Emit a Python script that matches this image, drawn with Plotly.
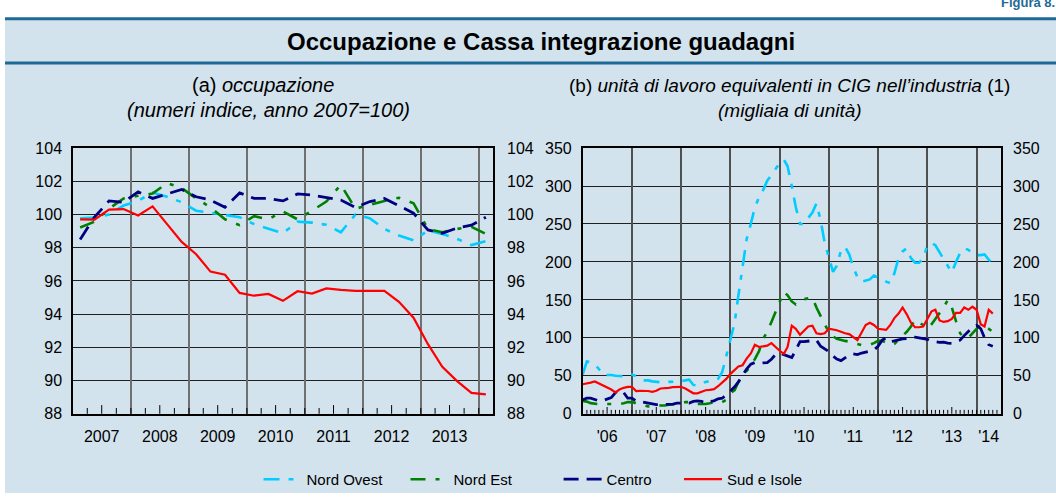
import plotly.graph_objects as go
import pandas as pd

# ---------------- DATA ----------------
# (a) occupazione, quarterly index numbers 2007=100, 2007Q1..2014Q1
quarters = pd.period_range("2007Q1", "2014Q1", freq="Q")
occ_nord_ovest = [99.77, 99.81, 100.00, 100.54, 100.82, 101.32, 101.07, 100.74, 100.23, 100.10,
                  99.96, 99.84, 99.42, 99.13, 98.87, 99.57, 99.51, 99.38, 98.93, 100.00,
                  99.77, 99.13, 98.74, 98.45, 99.03, 98.83, 98.54, 98.16, 98.39]
occ_nord_est = [99.22, 99.57, 100.35, 100.97, 101.13, 101.26, 101.90, 101.59, 100.97, 100.43,
                99.71, 99.36, 99.90, 99.71, 100.19, 99.71, 100.23, 100.78, 101.79, 100.35,
                100.58, 100.82, 101.01, 100.68, 99.13, 98.93, 99.13, 99.26, 98.83]
occ_centro = [98.50, 99.84, 100.82, 100.74, 101.36, 100.97, 101.24, 101.51, 101.07, 100.87,
              100.43, 101.30, 100.97, 100.97, 100.82, 101.24, 101.17, 101.01, 100.87, 100.43,
              100.78, 100.97, 100.54, 100.08, 99.07, 98.87, 99.18, 99.36, 99.84]
occ_sud = [99.71, 99.69, 100.29, 100.33, 99.94, 100.49, 99.42, 98.35, 97.61, 96.56,
           96.37, 95.28, 95.11, 95.22, 94.80, 95.38, 95.24, 95.55, 95.46, 95.40,
           95.40, 95.40, 94.74, 93.79, 92.19, 90.83, 89.98, 89.26, 89.17]

# (b) CIG, monthly thousands of units, Jan 2006 .. May 2014
months = pd.date_range("2006-01-01", periods=101, freq="MS")
cig_nord_ovest = [52, 69, 67.5, 65, 59, 51, 51, 51, 50, 49.6, 49.6, 51.3, 51.7, 49.6, 45.3, 44, 44,
                  42.7, 42, 41, 41, 42, 42, 42.7, 42.7, 44, 45, 38, 37, 39.7, 42, 43, 44, 46, 55,
                  76, 97, 120, 156, 195, 230, 250, 272, 285, 295, 307, 315, 322, 330, 335, 326,
                  300, 272, 250, 250, 258, 265, 277, 255, 225, 205, 187, 195, 215, 220, 210, 193,
                  180, 174, 175, 177, 182, 180, 177, 174, 172, 185, 205, 214, 218, 205, 199, 199,
                  205, 222, 225, 222, 213, 205, 195, 186, 200, 212, 218, 216, 211, 209, 209, 210,
                  203, 198]
cig_nord_est = [17, 16, 14, 13, 12, 12, 12.8, 12.8, 12.8, 12.8, 14, 15.4, 15.4, 14, 12.8, 10.7,
                9.8, 9.8, 9.8, 11, 11, 12, 12, 12.8, 14, 15.4, 15.4, 14, 12.8, 12.8, 12.8, 14,
                15.4, 14, 15.4, 18.4, 27, 31, 42, 50, 57, 63, 72, 82.5, 99, 108, 121, 134, 149,
                160.7, 156, 148, 144, 148, 151, 152, 153, 140, 128, 118, 108, 102, 98.7, 97, 96,
                95, 93.5, 91.5, 90.5, 90, 91, 93, 96, 96, 94, 91, 92, 97, 102, 108, 115, 124,
                120, 117, 112, 118, 125, 133, 140, 150, 140, 122, 106, 100, 100, 106, 112, 118,
                116, 112, 108]
cig_centro = [18.4, 20.5, 20.5, 18.4, 17, 17.5, 19.7, 21.4, 28, 31, 28, 20.5, 20.5, 17, 16.2, 15,
              14, 12.8, 12, 12, 12, 12, 12.8, 14, 14, 14, 14, 16.2, 17, 16.2, 14, 16.2, 17,
              19.7, 20.5, 24.8, 30, 35.5, 42, 50.4, 59, 65.4, 67.5, 66.7, 66.7, 67.5, 71.8, 78,
              80, 78, 76, 74, 84, 95, 95, 96, 96.5, 97, 89, 86, 82, 76, 72, 70, 74, 77.5, 79,
              78, 80, 81, 82, 84, 89, 97, 100, 95, 96, 97.5, 98.7, 99, 101, 101, 100, 99, 98,
              95.7, 95, 94, 94.4, 93, 92.8, 95, 97, 103, 108, 114, 116.5, 112, 100, 91, 89]
cig_sud = [38.9, 39.7, 41, 42.5, 40, 37.6, 35.5, 32, 28.2, 32, 34.2, 35.5, 35.5, 30, 30.3, 30.3,
           30, 29, 30.3, 33.3, 33.5, 34.2, 35, 35.5, 35.5, 33.3, 30.3, 27, 27, 29, 31, 31.5,
           32.5, 36.3, 41, 46, 52.6, 57.7, 62.4, 64, 72.6, 79.5, 91, 88, 88.9, 89.7, 93, 88,
           83, 79, 88, 116, 112, 104, 110, 115, 116, 106, 105, 106, 112, 111, 110, 108, 106,
           105, 101, 97, 107, 117, 120, 117, 112, 111, 110.5, 117, 126, 132, 140, 131, 120,
           114, 114, 115, 126, 135, 137, 123, 121, 122, 125, 133, 133, 140, 137, 141, 137,
           118, 115, 137, 132]

series_names = ["Nord Ovest", "Nord Est", "Centro", "Sud e Isole"]
left_year_labels = {2007: "2007", 2008: "2008", 2009: "2009", 2010: "2010",
                    2011: "2011", 2012: "2012", 2013: "2013"}
right_year_labels = {2006: "'06", 2007: "'07", 2008: "'08", 2009: "'09", 2010: "'10",
                     2011: "'11", 2012: "'12", 2013: "'13", 2014: "'14"}
left_yticks = [88, 90, 92, 94, 96, 98, 100, 102, 104]
right_yticks = [0, 50, 100, 150, 200, 250, 300, 350]

# ---------------- STYLE ----------------
W, H = 1056, 502
BG = "#D3E3ED"
DARK = "#1E6A97"
FONT = "Liberation Sans, Arial, sans-serif"
colors = ["#00CCFF", "#008000", "#000080", "#FF0000"]
dashes = ["16px,9px,5px,9px", "15px,10px,4px,10px", "15px,8px", "solid"]
widths = [2.6, 2.6, 2.8, 2.2]
PLOT_H = 275  # px height of both plot areas


def px(x):
    return x / W


def py(y):
    return 1 - y / H


q_mid = [p.start_time + (p.end_time - p.start_time) / 2 for p in quarters]

fig = go.Figure()

left_series = [occ_nord_ovest, occ_nord_est, occ_centro, occ_sud]
right_series = [cig_nord_ovest, cig_nord_est, cig_centro, cig_sud]
legend_ids = ["legend", "legend2", "legend3", "legend4"]

for i, name in enumerate(series_names):
    fig.add_trace(go.Scatter(
        x=q_mid, y=left_series[i], mode="lines", name=name,
        line=dict(color=colors[i], dash=dashes[i], width=widths[i]),
        xaxis="x", yaxis="y", legend=legend_ids[i], showlegend=True))
for i, name in enumerate(series_names):
    fig.add_trace(go.Scatter(
        x=months, y=right_series[i], mode="lines", name=name,
        line=dict(color=colors[i], dash=dashes[i], width=widths[i]),
        xaxis="x3", yaxis="y3", showlegend=False))

# helper traces so the overlay axes (right labels, year grid) get drawn
for xa, ya in (("x", "y2"), ("x3", "y4"), ("x2", "y"), ("x4", "y3")):
    fig.add_trace(go.Scatter(x=[], y=[], xaxis=xa, yaxis=ya, showlegend=False, hoverinfo="skip"))

left_dom_x = [px(73), px(493)]
right_dom_x = [px(582.7), px(1001)]
dom_y = [py(420), py(145)]

left_range = ["2007-01-01", "2014-04-01"]
right_range = ["2006-01-01", "2014-07-01"]

# label positions (mid-year; the partial 2014 on the right gets its label mid-way)
left_label_pos = [f"{y}-07-01" for y in left_year_labels]
right_label_pos = [f"{y}-07-01" for y in right_year_labels if y < 2014] + ["2014-04-01"]

# tick mark positions: quarter / month boundaries
left_tick_dates = pd.date_range("2007-04-01", "2014-01-01", freq="QS")
right_tick_dates = pd.date_range("2006-02-01", "2014-06-01", freq="MS")

left_year_starts = [f"{y}-01-01" for y in range(2008, 2015)]
right_year_starts = [f"{y}-01-01" for y in range(2007, 2015)]

tickfont = dict(family=FONT, size=16, color="black")
axis_line = dict(showline=True, linecolor="black", linewidth=1.5, mirror=True, zeroline=False)

fig.update_layout(
    width=W, height=H, margin=dict(l=0, r=0, t=0, b=0),
    paper_bgcolor="white", plot_bgcolor="white",
    font=dict(family=FONT, color="black"),
    title=dict(text="<b>Figura 8.</b>", x=px(1001), xanchor="left", xref="container",
               y=1 - 2 / H, yanchor="middle", yref="container",
               font=dict(family=FONT, size=13, color=DARK)),
    xaxis=dict(domain=left_dom_x, anchor="y", type="date", range=left_range,
               tickmode="array", tickvals=left_label_pos, ticktext=list(left_year_labels.values()),
               ticks="", showgrid=False, tickfont=tickfont, ticklabelstandoff=7, **axis_line),
    xaxis2=dict(overlaying="x", anchor="y", type="date", range=left_range,
                tickmode="array", tickvals=left_year_starts, ticks="", showticklabels=False,
                showgrid=True, gridcolor="#707070", gridwidth=2, zeroline=False, showline=False),
    yaxis=dict(domain=dom_y, anchor="x", range=[88, 104], tickmode="array", tickvals=left_yticks,
               showgrid=True, gridcolor="#202020", gridwidth=1, ticks="", tickfont=tickfont,
               ticklabelstandoff=6, **axis_line),
    yaxis2=dict(overlaying="y", anchor="x", side="right", range=[88, 104], tickmode="array",
                tickvals=left_yticks, showgrid=False, ticks="", tickfont=tickfont,
                ticklabelstandoff=13, zeroline=False),
    xaxis3=dict(domain=right_dom_x, anchor="y3", type="date", range=right_range,
                tickmode="array", tickvals=right_label_pos, ticktext=list(right_year_labels.values()),
                ticks="", showgrid=False, tickfont=tickfont, ticklabelstandoff=7, **axis_line),
    xaxis4=dict(overlaying="x3", anchor="y3", type="date", range=right_range,
                tickmode="array", tickvals=right_year_starts, ticks="", showticklabels=False,
                showgrid=True, gridcolor="#505050", gridwidth=1.5, zeroline=False, showline=False),
    yaxis3=dict(domain=dom_y, anchor="x3", range=[0, 350], tickmode="array", tickvals=right_yticks,
                showgrid=True, gridcolor="#202020", gridwidth=1, ticks="", tickfont=tickfont,
                ticklabelstandoff=6, **axis_line),
    yaxis4=dict(overlaying="y3", anchor="x3", side="right", range=[0, 350], tickmode="array",
                tickvals=right_yticks, showgrid=False, ticks="", tickfont=tickfont,
                ticklabelstandoff=11, zeroline=False),
)

# inside tick marks along the bottom axes (longer at mid-year)
for d in left_tick_dates:
    ln = 9 if d.month == 7 else 6
    fig.add_shape(type="line", xref="x", yref="y domain", x0=d, x1=d, y0=0, y1=ln / PLOT_H,
                  line=dict(color="black", width=1), layer="above")
for d in right_tick_dates:
    ln = 7 if d.month == 7 else 4
    fig.add_shape(type="line", xref="x3", yref="y3 domain", x0=d, x1=d, y0=0, y1=ln / PLOT_H,
                  line=dict(color="black", width=1), layer="above")

# legends (one per series, positioned like the reference)
legend_x = [258.5, 405.5, 558.6, 679]
for lid, lx in zip(legend_ids, legend_x):
    fig.update_layout({lid: dict(x=px(lx), y=py(488), xanchor="left", yanchor="middle",
                                 orientation="h", bgcolor="rgba(0,0,0,0)", borderwidth=0,
                                 itemwidth=38, font=dict(family=FONT, size=15, color="black"))})

# background panel and header rules
fig.add_shape(type="rect", xref="paper", yref="paper", x0=px(5), x1=1.0, y0=0, y1=py(11),
              fillcolor=BG, line=dict(width=0), layer="below")
for yy in (11, 57):
    fig.add_shape(type="line", xref="paper", yref="paper", x0=px(5), x1=1.0, y0=py(yy), y1=py(yy),
                  line=dict(color=DARK, width=3), layer="below")

ann = [
    dict(text="<b>Occupazione e Cassa integrazione guadagni</b>", x=px(541), y=py(35), size=24),
    dict(text="(a) <i>occupazione</i>", x=px(263), y=py(80), size=20),
    dict(text="<i>(numeri indice, anno 2007=100)</i>", x=px(268), y=py(106), size=20),
    dict(text="(b) <i>unità di lavoro equivalenti in CIG nell’industria</i> (1)", x=px(789), y=py(80), size=19),
    dict(text="<i>(migliaia di unità)</i>", x=px(790), y=py(106), size=19),
]
for a in ann:
    fig.add_annotation(text=a["text"], x=a["x"], y=a["y"], xref="paper", yref="paper",
                       xanchor="center", yanchor="middle", showarrow=False,
                       font=dict(family=FONT, size=a["size"], color="black"))

fig.write_html("out.html", config={"displayModeBar": False},
               post_script="document.body.style.margin='0px';")
